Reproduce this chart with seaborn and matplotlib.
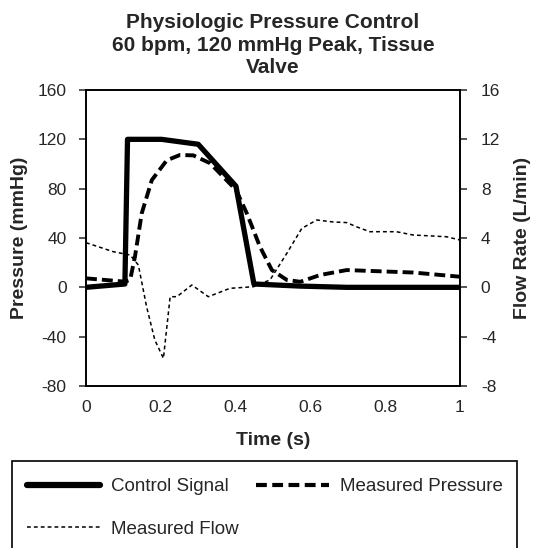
import numpy as np
import pandas as pd
import matplotlib.pyplot as plt
import seaborn as sns
from matplotlib.lines import Line2D
from matplotlib.patches import Rectangle

# Data
ctrl_t = [0, 0.104, 0.111, 0.202, 0.30, 0.401, 0.449, 0.573, 0.697, 1.0]
ctrl_p = [0, 2.7, 120, 120, 116, 82, 2.7, 1, 0, 0]

press_t = [0, 0.104, 0.118, 0.131, 0.149, 0.176, 0.216, 0.251, 0.287, 0.332,
           0.401, 0.43, 0.465, 0.497, 0.537, 0.573, 0.626, 0.697, 0.875, 1.0]
press_p = [7.3, 4.6, 6, 25, 60, 87, 103, 107.3, 107, 100.6,
           79, 60, 33, 14, 6, 4.5, 10, 14, 12, 8.6]

flow_t = [0, 0.073, 0.118, 0.14, 0.162, 0.184, 0.207, 0.225, 0.243, 0.283,
          0.327, 0.385, 0.448, 0.492, 0.537, 0.577, 0.617, 0.661, 0.697, 0.724,
          0.759, 0.83, 0.875, 0.928, 0.964, 1.0]
flow_f = [3.62, 2.89, 2.62, 1.81, -1.57, -4.27, -5.76, -0.76, -0.76, 0.19,
          -0.76, -0.08, 0.05, 0.6, 2.76, 4.78, 5.46, 5.3, 5.25, 4.9,
          4.51, 4.51, 4.24, 4.16, 4.1, 3.84]

ctrl = pd.DataFrame({"t": ctrl_t, "v": ctrl_p})
press = pd.DataFrame({"t": press_t, "v": press_p})
flow = pd.DataFrame({"t": flow_t, "v": flow_f})

sns.set_style("ticks")
plt.rcParams['font.family'] = ['Liberation Sans', 'DejaVu Sans']
plt.rcParams['axes.unicode_minus'] = False

fig = plt.figure(figsize=(5.38, 5.48), dpi=100)
ax = fig.add_axes([86/538, 1-386/548, (460-86)/538, (386-90)/548])
ax2 = ax.twinx()

sns.lineplot(data=ctrl, x="t", y="v", ax=ax, color="black", lw=3.8, estimator=None, sort=False)
sns.lineplot(data=press, x="t", y="v", ax=ax, color="black", lw=2.8, estimator=None, sort=False,
             dashes=False, linestyle=(0, (2.8, 1.3)))
sns.lineplot(data=flow, x="t", y="v", ax=ax2, color="black", lw=1.1, estimator=None, sort=False,
             linestyle=(0, (2.5, 2)))

ax.set_xlim(0, 1)
ax.set_ylim(-80, 160)
ax2.set_ylim(-8, 16)
ax.set_xticks([0, 0.2, 0.4, 0.6, 0.8, 1])
ax.set_xticklabels(["0", "0.2", "0.4", "0.6", "0.8", "1"])
ax.set_yticks(range(-80, 161, 40))
ax2.set_yticks(range(-8, 17, 4))

for a in (ax, ax2):
    for s in a.spines.values():
        s.set_visible(True)
        s.set_color("black")
        s.set_linewidth(1.2)
ax.tick_params(axis="x", length=0, labelsize=12.5, pad=10)
ax.tick_params(axis="y", length=5, width=1.1, labelsize=12.5, direction="out", pad=9)
ax2.tick_params(axis="y", length=5, width=1.1, labelsize=12.5, direction="out", pad=10)

ax.set_xlabel("Time (s)", fontsize=14, fontweight="bold", labelpad=12)
ax.set_ylabel("Pressure (mmHg)", fontsize=14, fontweight="bold", labelpad=7)
ax2.set_ylabel("Flow Rate (L/min)", fontsize=14, fontweight="bold", labelpad=10)
ax.set_title("Physiologic Pressure Control\n60 bpm, 120 mmHg Peak, Tissue\nValve",
             fontsize=15, fontweight="bold", linespacing=1.25, pad=12)

# Legend in a box running off the bottom of the figure
fig.patches.append(Rectangle((12/538, -0.05), (517-12)/538, 1-461/548+0.05,
                             transform=fig.transFigure, fill=False, edgecolor="black", lw=1.2))
h_ctrl = Line2D([], [], color="black", lw=4.5, solid_capstyle="round")
h_press = Line2D([], [], color="black", lw=3.0, linestyle=(0, (2.6, 1.3)))
h_flow = Line2D([], [], color="black", lw=1.1, linestyle=(0, (2.5, 2)))
fig.legend([h_ctrl, h_flow, h_press], ["Control Signal", "Measured Flow", "Measured Pressure"],
           loc="upper left", bbox_to_anchor=(27/538, 1-478/548), ncol=2, frameon=False,
           fontsize=13.5, handlelength=3.9, handletextpad=0.6, columnspacing=0.9,
           labelspacing=1.35, borderaxespad=0, borderpad=0)

fig.savefig("out.png", dpi=100)
